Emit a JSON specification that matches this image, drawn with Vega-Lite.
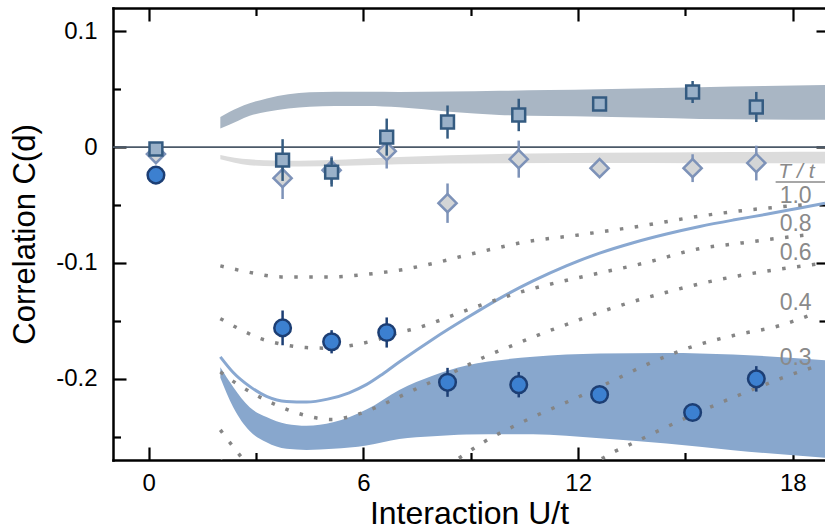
{
  "$schema": "https://vega.github.io/schema/vega-lite/v6.json",
  "width": 712,
  "height": 452,
  "autosize": "none",
  "padding": {"left": 113, "top": 8, "right": 0, "bottom": 69},
  "config": {
    "view": {"stroke": null},
    "font": "Liberation Sans",
    "axis": {"grid": false, "domainColor": "black", "tickColor": "black", "labelColor": "black", "titleColor": "black", "titleFontWeight": "normal", "labelFont": "Liberation Sans", "titleFont": "Liberation Sans", "zindex": 1, "domainWidth": 2.5, "tickWidth": 2.2, "domainCap": "square"}
  },
  "datasets": {
    "darkBand": [
      {"x": 2.0, "lo": 0.016, "hi": 0.026}, {"x": 2.5, "lo": 0.0228, "hi": 0.034}, {"x": 2.82, "lo": 0.027, "hi": 0.0378}, {"x": 3.3, "lo": 0.0305, "hi": 0.042}, {"x": 3.9, "lo": 0.0333, "hi": 0.0456}, {"x": 4.5, "lo": 0.0347, "hi": 0.0472}, {"x": 5.2, "lo": 0.0354, "hi": 0.0478}, {"x": 6.1, "lo": 0.0354, "hi": 0.0477}, {"x": 7.0, "lo": 0.0343, "hi": 0.0476}, {"x": 8.4, "lo": 0.0305, "hi": 0.0479}, {"x": 9.8, "lo": 0.0277, "hi": 0.0485}, {"x": 11.2, "lo": 0.0268, "hi": 0.0492}, {"x": 12.6, "lo": 0.0262, "hi": 0.0499}, {"x": 14.0, "lo": 0.0252, "hi": 0.0508}, {"x": 15.4, "lo": 0.0243, "hi": 0.0516}, {"x": 17.2, "lo": 0.0238, "hi": 0.0526}, {"x": 18.9, "lo": 0.0236, "hi": 0.0536}
    ],
    "lightBand": [
      {"x": 2.0, "lo": -0.0106, "hi": -0.0069}, {"x": 2.4, "lo": -0.0135, "hi": -0.0092}, {"x": 2.82, "lo": -0.0156, "hi": -0.0106}, {"x": 3.5, "lo": -0.0166, "hi": -0.0115}, {"x": 4.22, "lo": -0.0168, "hi": -0.0118}, {"x": 5.5, "lo": -0.0162, "hi": -0.0108}, {"x": 7.0, "lo": -0.0148, "hi": -0.0085}, {"x": 9.8, "lo": -0.014, "hi": -0.006}, {"x": 12.6, "lo": -0.0137, "hi": -0.005}, {"x": 15.4, "lo": -0.0139, "hi": -0.0044}, {"x": 18.9, "lo": -0.0141, "hi": -0.0041}
    ],
    "blueBand": [
      {"x": 2.0, "lo": -0.199, "hi": -0.19}, {"x": 2.36, "lo": -0.2245, "hi": -0.207}, {"x": 2.82, "lo": -0.245, "hi": -0.2245}, {"x": 3.29, "lo": -0.2547, "hi": -0.233}, {"x": 3.85, "lo": -0.2604, "hi": -0.239}, {"x": 4.41, "lo": -0.2613, "hi": -0.2405}, {"x": 5.15, "lo": -0.2604, "hi": -0.2375}, {"x": 6.08, "lo": -0.2575, "hi": -0.2265}, {"x": 7.0, "lo": -0.2518, "hi": -0.2095}, {"x": 7.95, "lo": -0.2495, "hi": -0.197}, {"x": 8.88, "lo": -0.248, "hi": -0.1885}, {"x": 10.74, "lo": -0.2478, "hi": -0.181}, {"x": 12.6, "lo": -0.2512, "hi": -0.1782}, {"x": 14.47, "lo": -0.2558, "hi": -0.1777}, {"x": 16.33, "lo": -0.2616, "hi": -0.179}, {"x": 18.9, "lo": -0.268, "hi": -0.184}
    ],
    "solid": [
      {"x": 2.0, "y": -0.181}, {"x": 2.36, "y": -0.1945}, {"x": 2.82, "y": -0.2065}, {"x": 3.29, "y": -0.215}, {"x": 3.85, "y": -0.2195}, {"x": 4.41, "y": -0.22}, {"x": 5.0, "y": -0.2175}, {"x": 5.6, "y": -0.212}, {"x": 6.08, "y": -0.205}, {"x": 6.55, "y": -0.1955}, {"x": 7.0, "y": -0.1855}, {"x": 7.95, "y": -0.1655}, {"x": 8.88, "y": -0.1475}, {"x": 9.81, "y": -0.1305}, {"x": 10.74, "y": -0.1155}, {"x": 11.67, "y": -0.1025}, {"x": 12.6, "y": -0.0915}, {"x": 13.54, "y": -0.0825}, {"x": 14.47, "y": -0.075}, {"x": 15.4, "y": -0.0685}, {"x": 16.33, "y": -0.063}, {"x": 17.26, "y": -0.058}, {"x": 18.2, "y": -0.0525}, {"x": 18.9, "y": -0.0485}
    ],
    "dotted": [
      {"T": "1.0", "x": 2.0, "y": -0.1025}, {"T": "1.0", "x": 2.8, "y": -0.108}, {"T": "1.0", "x": 3.7, "y": -0.112}, {"T": "1.0", "x": 5.1, "y": -0.112}, {"T": "1.0", "x": 6.0, "y": -0.11}, {"T": "1.0", "x": 7.1, "y": -0.1057}, {"T": "1.0", "x": 8.0, "y": -0.1}, {"T": "1.0", "x": 8.78, "y": -0.094}, {"T": "1.0", "x": 9.6, "y": -0.088}, {"T": "1.0", "x": 10.42, "y": -0.0824}, {"T": "1.0", "x": 12.09, "y": -0.0755}, {"T": "1.0", "x": 13.77, "y": -0.068}, {"T": "1.0", "x": 15.4, "y": -0.0596}, {"T": "1.0", "x": 16.4, "y": -0.0555}, {"T": "1.0", "x": 17.5, "y": -0.052}, {"T": "1.0", "x": 18.47, "y": -0.0493},
      {"T": "0.8", "x": 2.0, "y": -0.148}, {"T": "0.8", "x": 2.6, "y": -0.158}, {"T": "0.8", "x": 3.1, "y": -0.165}, {"T": "0.8", "x": 3.7, "y": -0.17}, {"T": "0.8", "x": 4.4, "y": -0.173}, {"T": "0.8", "x": 5.0, "y": -0.1735}, {"T": "0.8", "x": 5.7, "y": -0.171}, {"T": "0.8", "x": 6.4, "y": -0.166}, {"T": "0.8", "x": 7.0, "y": -0.16}, {"T": "0.8", "x": 7.4, "y": -0.157}, {"T": "0.8", "x": 8.0, "y": -0.151}, {"T": "0.8", "x": 8.55, "y": -0.1446}, {"T": "0.8", "x": 9.5, "y": -0.134}, {"T": "0.8", "x": 10.56, "y": -0.1236}, {"T": "0.8", "x": 11.6, "y": -0.1155}, {"T": "0.8", "x": 12.65, "y": -0.1083}, {"T": "0.8", "x": 13.86, "y": -0.1}, {"T": "0.8", "x": 15.4, "y": -0.0876}, {"T": "0.8", "x": 16.5, "y": -0.083}, {"T": "0.8", "x": 17.5, "y": -0.079}, {"T": "0.8", "x": 18.47, "y": -0.0755},
      {"T": "0.6", "x": 2.0, "y": -0.194}, {"T": "0.6", "x": 2.5, "y": -0.205}, {"T": "0.6", "x": 3.0, "y": -0.214}, {"T": "0.6", "x": 3.6, "y": -0.223}, {"T": "0.6", "x": 4.2, "y": -0.23}, {"T": "0.6", "x": 5.1, "y": -0.235}, {"T": "0.6", "x": 5.8, "y": -0.231}, {"T": "0.6", "x": 6.4, "y": -0.224}, {"T": "0.6", "x": 7.1, "y": -0.214}, {"T": "0.6", "x": 7.8, "y": -0.204}, {"T": "0.6", "x": 8.6, "y": -0.193}, {"T": "0.6", "x": 9.39, "y": -0.181}, {"T": "0.6", "x": 10.18, "y": -0.171}, {"T": "0.6", "x": 10.98, "y": -0.161}, {"T": "0.6", "x": 11.77, "y": -0.152}, {"T": "0.6", "x": 12.56, "y": -0.143}, {"T": "0.6", "x": 13.35, "y": -0.135}, {"T": "0.6", "x": 14.5, "y": -0.125}, {"T": "0.6", "x": 15.4, "y": -0.118}, {"T": "0.6", "x": 16.5, "y": -0.111}, {"T": "0.6", "x": 17.7, "y": -0.105}, {"T": "0.6", "x": 18.8, "y": -0.1005},
      {"T": "0.4", "x": 2.0, "y": -0.244}, {"T": "0.4", "x": 2.26, "y": -0.2547}, {"T": "0.4", "x": 2.52, "y": -0.265}, {"T": "0.4", "x": 3.0, "y": -0.283}, {"T": "0.4", "x": 4.0, "y": -0.305}, {"T": "0.4", "x": 5.0, "y": -0.315}, {"T": "0.4", "x": 6.0, "y": -0.313}, {"T": "0.4", "x": 7.0, "y": -0.302}, {"T": "0.4", "x": 8.0, "y": -0.283}, {"T": "0.4", "x": 8.69, "y": -0.268}, {"T": "0.4", "x": 9.39, "y": -0.254}, {"T": "0.4", "x": 10.46, "y": -0.237}, {"T": "0.4", "x": 12.05, "y": -0.215}, {"T": "0.4", "x": 13.21, "y": -0.198}, {"T": "0.4", "x": 13.96, "y": -0.187}, {"T": "0.4", "x": 15.21, "y": -0.172}, {"T": "0.4", "x": 16.42, "y": -0.162}, {"T": "0.4", "x": 17.64, "y": -0.154}, {"T": "0.4", "x": 18.48, "y": -0.145},
      {"T": "0.3", "x": 2.0, "y": -0.27}, {"T": "0.3", "x": 2.5, "y": -0.285}, {"T": "0.3", "x": 3.5, "y": -0.31}, {"T": "0.3", "x": 5.0, "y": -0.33}, {"T": "0.3", "x": 7.0, "y": -0.335}, {"T": "0.3", "x": 9.0, "y": -0.322}, {"T": "0.3", "x": 11.0, "y": -0.295}, {"T": "0.3", "x": 12.0, "y": -0.279}, {"T": "0.3", "x": 12.65, "y": -0.269}, {"T": "0.3", "x": 13.0, "y": -0.263}, {"T": "0.3", "x": 13.39, "y": -0.2575}, {"T": "0.3", "x": 14.3, "y": -0.244}, {"T": "0.3", "x": 15.21, "y": -0.231}, {"T": "0.3", "x": 16.1, "y": -0.219}, {"T": "0.3", "x": 16.98, "y": -0.208}, {"T": "0.3", "x": 17.8, "y": -0.198}, {"T": "0.3", "x": 18.57, "y": -0.19}
    ],
    "diamonds": [
      {"x": 0.2, "y": -0.006, "err": 0}, {"x": 3.74, "y": -0.0268, "err": 0.018}, {"x": 5.11, "y": -0.0199, "err": 0.012}, {"x": 6.65, "y": -0.0035, "err": 0.015}, {"x": 8.35, "y": -0.0484, "err": 0.017}, {"x": 10.34, "y": -0.0104, "err": 0.016}, {"x": 12.6, "y": -0.0182, "err": 0.002}, {"x": 15.2, "y": -0.0182, "err": 0.012}, {"x": 16.98, "y": -0.0138, "err": 0.015}
    ],
    "squares": [
      {"x": 0.2, "y": -0.0017, "err": 0}, {"x": 3.74, "y": -0.0112, "err": 0.018}, {"x": 5.11, "y": -0.0216, "err": 0.0125}, {"x": 6.65, "y": 0.0086, "err": 0.016}, {"x": 8.35, "y": 0.0216, "err": 0.0143}, {"x": 10.34, "y": 0.0277, "err": 0.014}, {"x": 12.6, "y": 0.0372, "err": 0.003}, {"x": 15.2, "y": 0.0475, "err": 0.0095}, {"x": 16.98, "y": 0.0346, "err": 0.013}
    ],
    "circles": [
      {"x": 0.2, "y": -0.0242, "err": 0}, {"x": 3.74, "y": -0.156, "err": 0.015}, {"x": 5.11, "y": -0.168, "err": 0.01}, {"x": 6.65, "y": -0.16, "err": 0.013}, {"x": 8.35, "y": -0.203, "err": 0.0125}, {"x": 10.34, "y": -0.205, "err": 0.011}, {"x": 12.6, "y": -0.2135, "err": 0}, {"x": 15.2, "y": -0.229, "err": 0}, {"x": 16.98, "y": -0.2, "err": 0.011}
    ],
    "tlabels": [
      {"label": "1.0", "x": 18.08, "y": -0.0419}, {"label": "0.8", "x": 18.08, "y": -0.0665}, {"label": "0.6", "x": 18.08, "y": -0.0912}, {"label": "0.4", "x": 18.08, "y": -0.1348}, {"label": "0.3", "x": 18.08, "y": -0.1824}
    ],
    "theader": [{"label": "T / t", "x": 18.1, "y": -0.0212, "x2": 17.52, "x3": 18.9, "yu": -0.0302}]
  },
  "layer": [
    {
      "data": {"name": "darkBand"},
      "mark": {"type": "area", "color": "#a9b6c4", "opacity": 1, "interpolate": "monotone"},
      "encoding": {
        "x": {"field": "x", "type": "quantitative", "scale": {"domain": [-1, 18.9], "nice": false, "zero": false},
          "axis": {"orient": "bottom", "values": [0, 6, 12, 18], "tickSize": -13, "labelFontSize": 24, "labelPadding": 24, "format": "d", "title": "Interaction U/t", "titleFontSize": 32, "titlePadding": 3, "domain": true}},
        "y": {"field": "hi", "type": "quantitative", "scale": {"domain": [-0.27, 0.12], "nice": false, "zero": false},
          "axis": {"orient": "left", "values": [0.1, 0, -0.1, -0.2], "tickSize": -13, "labelFontSize": 24, "labelPadding": 29, "labelExpr": "datum.value == 0 ? '0' : (datum.value < 0 ? '-' + format(-datum.value, '.1f') : format(datum.value, '.1f'))", "title": "Correlation C(d)", "titleFontSize": 31, "titlePadding": 14, "domain": true}},
        "y2": {"field": "lo"}
      }
    },
    {
      "data": {"name": "lightBand"},
      "mark": {"type": "area", "color": "#dcdcdc", "opacity": 1, "interpolate": "monotone"},
      "encoding": {
        "x": {"field": "x", "type": "quantitative", "axis": {"orient": "top", "values": [0, 6, 12, 18], "tickSize": -13, "labels": false, "title": null, "domain": true}},
        "y": {"field": "hi", "type": "quantitative", "axis": {"orient": "right", "values": [0.1, 0, -0.1, -0.2], "tickSize": -9, "labels": false, "title": null, "domain": false}},
        "y2": {"field": "lo"}
      }
    },
    {
      "data": {"name": "blueBand"},
      "mark": {"type": "area", "color": "#88a7cd", "opacity": 1, "interpolate": "monotone"},
      "encoding": {
        "x": {"field": "x", "type": "quantitative", "axis": {"orient": "bottom", "values": [3, 9, 15], "tickSize": -7.5, "labels": false, "title": null, "domain": false}},
        "y": {"field": "hi", "type": "quantitative", "axis": {"orient": "left", "values": [0.05, -0.05, -0.15, -0.25], "tickSize": -7.5, "labels": false, "title": null, "domain": false}},
        "y2": {"field": "lo"}
      }
    },
    {
      "data": {"name": "solid"},
      "mark": {"type": "line", "color": "#89a8d1", "strokeWidth": 3, "clip": true, "interpolate": "monotone"},
      "encoding": {
        "x": {"field": "x", "type": "quantitative", "axis": {"orient": "top", "values": [3, 9, 15], "tickSize": -7.5, "labels": false, "title": null, "domain": false}},
        "y": {"field": "y", "type": "quantitative", "axis": {"orient": "right", "values": [0.05, -0.05, -0.15, -0.25], "tickSize": -6, "labels": false, "title": null, "domain": false}}
      }
    },
    {
      "data": {"name": "dotted"},
      "mark": {"type": "line", "color": "#858585", "strokeWidth": 3.5, "strokeDash": [3.5, 11.5], "strokeCap": "butt", "clip": true, "interpolate": "monotone"},
      "encoding": {
        "x": {"field": "x", "type": "quantitative", "axis": null},
        "y": {"field": "y", "type": "quantitative", "axis": null},
        "detail": {"field": "T"}
      }
    },
    {
      "data": {"values": [{"zero": 0}]},
      "mark": {"type": "rule", "color": "#4b5968", "strokeWidth": 1.6},
      "encoding": {"y": {"field": "zero", "type": "quantitative", "axis": null}}
    },
    {
      "data": {"name": "diamonds"},
      "mark": {"type": "errorbar", "color": "#7d92b8", "thickness": 2.5},
      "encoding": {
        "x": {"field": "x", "type": "quantitative", "axis": null},
        "y": {"field": "y", "type": "quantitative", "axis": null},
        "yError": {"field": "err"}
      }
    },
    {
      "data": {"name": "diamonds"},
      "mark": {"type": "point", "shape": "diamond", "filled": true, "fill": "#d3d5d6", "stroke": "#7d92b8", "strokeWidth": 2.5, "size": 330, "opacity": 1},
      "encoding": {
        "x": {"field": "x", "type": "quantitative", "axis": null},
        "y": {"field": "y", "type": "quantitative", "axis": null}
      }
    },
    {
      "data": {"name": "squares"},
      "mark": {"type": "errorbar", "color": "#345b81", "thickness": 2.5},
      "encoding": {
        "x": {"field": "x", "type": "quantitative", "axis": null},
        "y": {"field": "y", "type": "quantitative", "axis": null},
        "yError": {"field": "err"}
      }
    },
    {
      "data": {"name": "squares"},
      "mark": {"type": "point", "shape": "square", "filled": true, "fill": "#9ab1c9", "stroke": "#345b81", "strokeWidth": 2.5, "size": 165, "opacity": 1},
      "encoding": {
        "x": {"field": "x", "type": "quantitative", "axis": null},
        "y": {"field": "y", "type": "quantitative", "axis": null}
      }
    },
    {
      "data": {"name": "circles"},
      "mark": {"type": "errorbar", "color": "#1c3e74", "thickness": 2.5},
      "encoding": {
        "x": {"field": "x", "type": "quantitative", "axis": null},
        "y": {"field": "y", "type": "quantitative", "axis": null},
        "yError": {"field": "err"}
      }
    },
    {
      "data": {"name": "circles"},
      "mark": {"type": "point", "shape": "circle", "filled": true, "fill": "#3c80d0", "stroke": "#1c3e74", "strokeWidth": 2.5, "size": 275, "opacity": 1},
      "encoding": {
        "x": {"field": "x", "type": "quantitative", "axis": null},
        "y": {"field": "y", "type": "quantitative", "axis": null}
      }
    },
    {
      "data": {"name": "tlabels"},
      "mark": {"type": "text", "color": "#8a8a8a", "fontSize": 23, "font": "Liberation Sans", "align": "center", "baseline": "middle"},
      "encoding": {
        "x": {"field": "x", "type": "quantitative", "axis": null},
        "y": {"field": "y", "type": "quantitative", "axis": null},
        "text": {"field": "label"}
      }
    },
    {
      "data": {"name": "theader"},
      "mark": {"type": "text", "color": "#8a8a8a", "fontSize": 21, "fontStyle": "italic", "font": "Liberation Sans", "align": "center", "baseline": "middle"},
      "encoding": {
        "x": {"field": "x", "type": "quantitative", "axis": null},
        "y": {"field": "y", "type": "quantitative", "axis": null},
        "text": {"field": "label"}
      }
    },
    {
      "data": {"name": "theader"},
      "mark": {"type": "rule", "color": "#8a8a8a", "strokeWidth": 1.5, "clip": true},
      "encoding": {
        "x": {"field": "x2", "type": "quantitative", "axis": null},
        "x2": {"field": "x3"},
        "y": {"field": "yu", "type": "quantitative", "axis": null}
      }
    }
  ]
}
